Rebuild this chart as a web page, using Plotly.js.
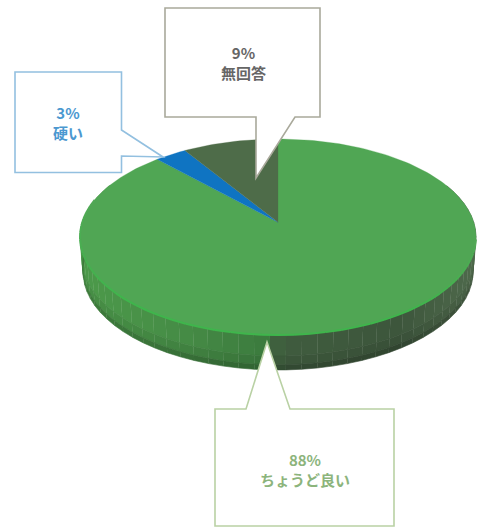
<!DOCTYPE html>
<html>
<head>
<meta charset="utf-8">
<script src="https://cdn.plot.ly/plotly-3.0.1.min.js"></script>
<style>html,body{margin:0;padding:0;background:#fff}#chart{width:482px;height:527px}</style>
</head>
<body>
<div id="chart"></div>
<script>
// Survey answers, clockwise from twelve o'clock
const categories = ['ちょうど良い', '硬い', '無回答'];
const percents = [88, 3, 9];
const faceColors = ['#50a654', '#0f74c2', '#4e6c49'];
const labelColors = ['#8cb47c', '#4b98d0', '#666666'];

// Tilted disc geometry, in axis units
const CX = 278, CY = 237, RX = 198, RY = 98;
const APEX_SHIFT = -0.15;     // perspective offset of the disc centre
const BOTTOM_RX = 195, DEPTH = 35;

function rim(deg) {
  const t = deg * Math.PI / 180, u = Math.sin(t), v = -Math.cos(t);
  const a = APEX_SHIFT, d = 1 + a * v;
  return [u * Math.sqrt(1 - a * a) / d, (v + a) / d];
}
const topPt = deg => { const p = rim(deg); return [CX + RX * p[0], CY + RY * p[1]]; };
const botPt = deg => { const p = rim(deg); return [CX + BOTTOM_RX * p[0], CY + DEPTH + RY * p[1]]; };
const apex = [CX, CY + RY * APEX_SHIFT];

function hex(c) { return [1, 3, 5].map(i => parseInt(c.substr(i, 2), 16)); }
function mix(a, b, f) {
  const A = hex(a), B = hex(b);
  return 'rgb(' + A.map((x, i) => Math.round(x + (B[i] - x) * f)).join(',') + ')';
}
// Side wall shading runs left to right across the front of the disc
const wallStops = [[80, '#4c9a4a'], [180, '#468c46'], [262, '#3c7c3e'], [280, '#3f5c3e'], [400, '#3d563c'], [478, '#4f6a4c']];
function wallColor(x) {
  for (let i = 1; i < wallStops.length; i++) {
    if (x <= wallStops[i][0]) {
      const f = Math.max(0, (x - wallStops[i - 1][0]) / (wallStops[i][0] - wallStops[i - 1][0]));
      return mix(wallStops[i - 1][1], wallStops[i][1], f);
    }
  }
  return wallStops[wallStops.length - 1][1];
}
function darken(rgb, f) {
  return rgb.replace(/\d+/g, n => Math.round(n * f));
}

const traces = [];
function poly(xs, ys, color) {
  traces.push({
    type: 'scatter', mode: 'lines', x: xs, y: ys, fill: 'toself', fillcolor: color,
    line: { color: color, width: 0.6 }, hoverinfo: 'skip', showlegend: false
  });
}

// Side wall: short quads along the front rim, split into bands for the lower shading
const bands = [[0, 0.6, 1], [0.6, 0.85, 0.93], [0.85, 1, 0.8]];
for (let deg = 66; deg < 294; deg += 4) {
  const a0 = topPt(deg), a1 = topPt(deg + 4), b0 = botPt(deg), b1 = botPt(deg + 4);
  const c = wallColor((a0[0] + a1[0]) / 2);
  bands.forEach(b => {
    const l = (p, q, f) => p + (q - p) * f;
    poly(
      [l(a0[0], b0[0], b[0]), l(a1[0], b1[0], b[0]), l(a1[0], b1[0], b[1]), l(a0[0], b0[0], b[1])],
      [l(a0[1], b0[1], b[0]), l(a1[1], b1[1], b[0]), l(a1[1], b1[1], b[1]), l(a0[1], b0[1], b[1])],
      darken(c, b[2])
    );
  });
}

// Top face: one wedge per category, sized from its percentage
let start = 0;
percents.forEach((p, i) => {
  const end = start + p * 3.6, xs = [apex[0]], ys = [apex[1]];
  for (let d = start; d < end; d += 1.5) { const q = topPt(d); xs.push(q[0]); ys.push(q[1]); }
  const e = topPt(end); xs.push(e[0]); ys.push(e[1]);
  xs.push(apex[0]); ys.push(apex[1]);
  traces.push({
    type: 'scatter', mode: 'lines', x: xs, y: ys, fill: 'toself', fillcolor: faceColors[i],
    line: { color: faceColors[i], width: 0.3 }, name: categories[i], hoverinfo: 'skip', showlegend: false
  });
  start = end;
});

// Bright bevel on the lower-left rim, fading out toward the ends
for (let deg = 100; deg < 282; deg += 4) {
  const a = topPt(deg), b = topPt(deg + 4);
  const f = deg < 190 ? (deg - 100) / 40 : (282 - deg) / 60;
  const c = mix('#52a856', '#3fb54c', Math.min(1, f));
  traces.push({
    type: 'scatter', mode: 'lines', x: [a[0], b[0]], y: [a[1], b[1]],
    line: { color: c, width: 2 }, hoverinfo: 'skip', showlegend: false
  });
}

// Callout outlines with pointers toward the slices
const callouts = [
  { path: 'M215,409 L246,409 L267,342 L290,409 L394,409 L394,526 L215,526 Z', color: '#b9d1a4' },
  { path: 'M15,72 L121.5,72 L121.5,130 L163,157 L121.5,156 L121.5,172.5 L15,172.5 Z', color: '#93c0e0' },
  { path: 'M165,8 L320,8 L320,117 L295,117 L256,178 L256,117 L165,117 Z', color: '#a9a99b' }
];
const shapes = callouts.map(c => ({
  type: 'path', xref: 'x', yref: 'y', path: c.path,
  fillcolor: '#ffffff', line: { color: c.color, width: 1.6 }, layer: 'above'
}));

const labelCenters = [[305, 469], [68, 122], [243, 62.5]];
const annotations = categories.map((c, i) => ({
  xref: 'x', yref: 'y', x: labelCenters[i][0], y: labelCenters[i][1],
  text: '<b>' + percents[i] + '%<br>' + c + '</b>', showarrow: false,
  align: 'center', xanchor: 'center', yanchor: 'middle',
  font: { family: '"Noto Sans CJK JP", "Noto Sans", sans-serif', size: 15, color: labelColors[i] }
}));

const layout = {
  width: 482, height: 527,
  margin: { l: 0, r: 0, t: 0, b: 0 },
  paper_bgcolor: '#ffffff', plot_bgcolor: '#ffffff',
  xaxis: { range: [0, 482], visible: false, fixedrange: true },
  yaxis: { range: [527, 0], visible: false, fixedrange: true },
  showlegend: false, shapes: shapes, annotations: annotations
};
Plotly.newPlot('chart', traces, layout, { displayModeBar: false, staticPlot: true });
</script>
</body>
</html>
